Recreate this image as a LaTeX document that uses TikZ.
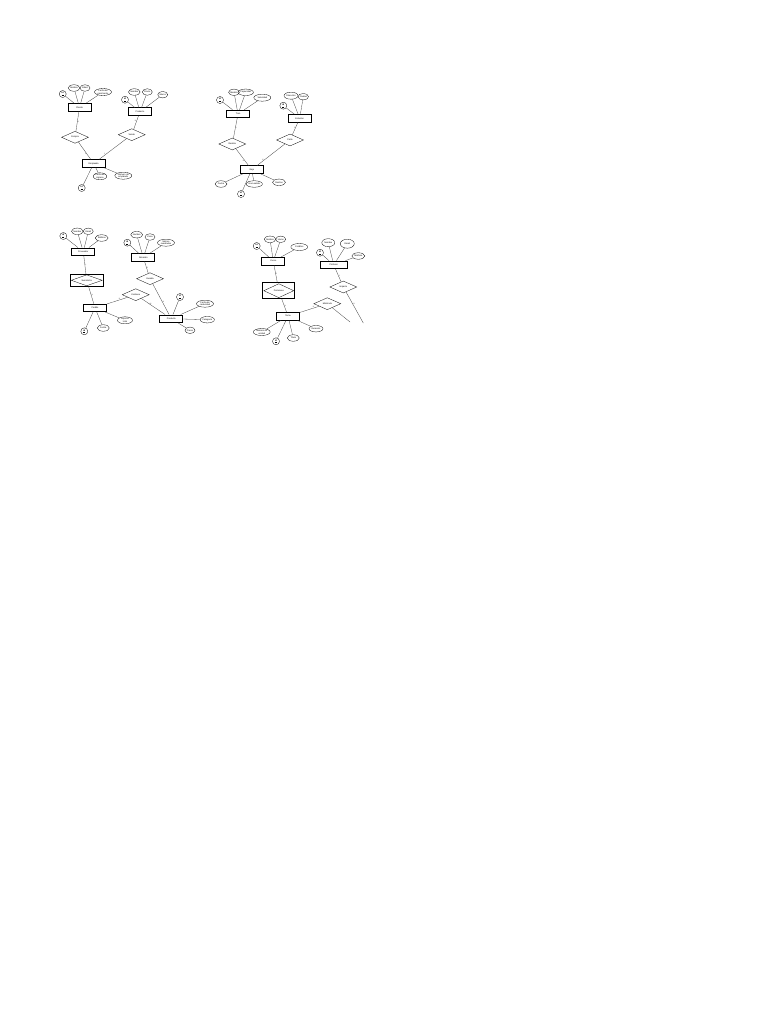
\documentclass[tikz,border=0pt]{standalone}
\usepackage{fontspec}
\setmainfont{Liberation Sans}
\usetikzlibrary{shapes.geometric}
\begin{document}
\begin{tikzpicture}[x=1pt,y=-1pt,
  every node/.style={font=\fontsize{2.2}{2.5}\selectfont, align=center},
  ent/.style={draw, line width=0.9pt, minimum width=23pt, minimum height=7.5pt, inner sep=0pt},
  attr/.style={draw, ellipse, line width=0.3pt, minimum width=10pt, minimum height=6.5pt, inner sep=0.2pt},
  wattr/.style={attr, minimum width=17pt, minimum height=7pt},
  key/.style={draw, circle, line width=0.3pt, minimum size=7pt, inner sep=0pt, font=\fontsize{2.2}{2.5}\selectfont\bfseries},
  rel/.style={draw, diamond, aspect=2.3, line width=0.3pt, minimum width=27pt, minimum height=12pt, inner sep=0pt},
  wbox/.style={draw, line width=0.9pt, minimum width=33pt, minimum height=12pt, inner sep=0pt},
  wrel/.style={draw, diamond, aspect=2.8, line width=0.3pt, minimum width=31pt, minimum height=11pt, inner sep=0pt},
  ln/.style={draw=black!75, line width=0.3pt},
  card/.style={font=\fontsize{1.8}{2}\selectfont, text=black!70, inner sep=0.3pt}]
\useasboundingbox (0,0) rectangle (768,1024);
\fill[white] (0,0) rectangle (768,1024);

% ---------------- Diagram 1 ----------------
\node[ent] (c1) at (79.5,107.5) {Cliente};
\node[key] (c1k) at (62.7,94) {\underline{id}};
\node[attr] (c1a) at (74,88) {Nombre};
\node[attr] (c1b) at (85,88) {Edad};
\node[wattr] (c1c) at (103,92) {Fecha de\\nacimiento};
\foreach \a in {c1k,c1a,c1b,c1c} \draw[ln] (c1) -- (\a);

\node[ent] (p1) at (140,111.7) {Producto};
\node[key] (p1k) at (125,99.7) {\underline{id}};
\node[attr] (p1a) at (134.3,92) {Nombre};
\node[attr] (p1b) at (147.3,92) {Precio};
\node[attr] (p1c) at (162.7,94.7) {Marca};
\foreach \a in {p1k,p1a,p1b,p1c} \draw[ln] (p1) -- (\a);

\node[rel] (r1a) at (75,137.3) {Compra};
\node[rel] (r1b) at (131.7,134.7) {Vende};

\node[ent] (e1) at (93.7,163.5) {Empleado};
\node[key] (e1k) at (81.7,188) {\underline{id}};
\node[attr, minimum width=12pt] (e1a) at (100,176.3) {Fecha de\\ingreso};
\node[wattr] (e1b) at (123.3,175.7) {Número de\\empleado};
\foreach \a in {e1k,e1a,e1b} \draw[ln] (e1) -- (\a);

\draw[ln] (c1) -- node[card, right, pos=0.5] {1} (r1a);
\draw[ln] (r1a) -- node[card, left, pos=0.7] {N} (e1);
\draw[ln] (p1) -- node[card, left, pos=0.4] {N} (r1b);
\draw[ln] (r1b) -- node[card, above, pos=0.8] {1} (e1);

% ---------------- Diagram 2 ----------------
\node[ent] (t2) at (238,114) {Tren};
\node[key] (t2k) at (220,100) {\underline{id}};
\node[attr] (t2a) at (234,92.3) {Modelo};
\node[attr] (t2b) at (245.7,92.3) {Capacidad};
\node[wattr] (t2c) at (262.3,97.7) {Velocidad};
\foreach \a in {t2k,t2a,t2b,t2c} \draw[ln] (t2) -- (\a);

\node[ent] (s2) at (299.7,118.3) {Estación};
\node[key] (s2k) at (283.3,105.7) {\underline{id}};
\node[wattr, minimum width=14pt] (s2a) at (291,95.7) {Dirección};
\node[attr] (s2b) at (303.3,96.7) {Ciudad};
\foreach \a in {s2k,s2a,s2b} \draw[ln] (s2) -- (\a);

\node[rel] (r2a) at (232.3,144) {Realiza};
\node[rel] (r2b) at (290,140) {Parte};

\node[ent] (v2) at (251.7,169.7) {Viaje};
\node[attr, minimum width=12pt] (v2a) at (221,184) {Fecha};
\node[key] (v2k) at (241,194) {\underline{id}};
\node[attr, minimum width=13pt] (v2b) at (254.3,184) {Hora salida};
\node[attr, minimum width=13pt] (v2c) at (279,182.3) {Destino};
\foreach \a in {v2a,v2k,v2b,v2c} \draw[ln] (v2) -- (\a);

\draw[ln] (t2) -- node[card, right, pos=0.5] {1} (r2a);
\draw[ln] (r2a) -- node[card, left, pos=0.7] {N} (v2);
\draw[ln] (s2) -- node[card, left, pos=0.4] {1} (r2b);
\draw[ln] (r2b) -- node[card, above, pos=0.8] {N} (v2);

% ---------------- Diagram 3 ----------------
\node[ent] (a3) at (83.3,251.7) {Proveedor};
\node[key] (a3k) at (63.3,236) {\underline{id}};
\node[attr] (a3a) at (77.3,231.3) {Nombre};
\node[attr] (a3b) at (88.3,231.3) {Email};
\node[attr, minimum width=13pt] (a3c) at (101.7,238) {Teléfono};
\foreach \a in {a3k,a3a,a3b,a3c} \draw[ln] (a3) -- (\a);

\node[wbox] (w3box) at (86.7,280.3) {};
\node[wrel] (w3) at (86.7,280.3) {Suministra};

\node[ent] (b3) at (95,307.8) {Pedido};
\node[key] (b3k) at (84.3,331.3) {\underline{id}};
\node[attr, minimum width=12pt] (b3a) at (103.3,328) {Fecha};
\node[wattr, minimum width=15pt] (b3b) at (125,320.3) {Importe\\total};
\foreach \a in {b3k,b3a,b3b} \draw[ln] (b3) -- (\a);

\node[ent] (c3) at (143.3,257.5) {Almacén};
\node[key] (c3k) at (127.3,242.7) {\underline{id}};
\node[attr, minimum width=12pt] (c3a) at (136.7,234.7) {Nombre};
\node[attr] (c3b) at (150,237) {Zona};
\node[wattr] (c3c) at (166,242.7) {Metros\\cuadrados};
\foreach \a in {c3k,c3a,c3b,c3c} \draw[ln] (c3) -- (\a);

\node[rel] (r3a) at (150,278.7) {Guarda};
\node[rel] (r3b) at (135.7,294.7) {Contiene};

\node[ent] (d3) at (171.3,318.7) {Producto};
\node[key] (d3k) at (180,297) {\underline{id}};
\node[wattr] (d3a) at (205,303.7) {Fecha de\\caducidad};
\node[attr, minimum width=13pt] (d3b) at (207.3,319.7) {Categoría};
\node[attr] (d3c) at (190,330.3) {Precio};
\foreach \a in {d3k,d3a,d3b,d3c} \draw[ln] (d3) -- (\a);

\draw[ln] (a3) -- node[card, right, pos=0.5] {1} (w3box);
\draw[ln] (w3box) -- node[card, right, pos=0.5] {N} (b3);
\draw[ln] (b3) -- node[card, above, pos=0.6] {N} (r3b);
\draw[ln] (r3b) -- node[card, above, pos=0.4] {M} (d3);
\draw[ln] (c3) -- node[card, right, pos=0.5] {1} (r3a);
\draw[ln] (r3a) -- node[card, right, pos=0.6] {N} (d3);

% ---------------- Diagram 4 ----------------
\node[ent] (e4) at (273.3,261.2) {Curso};
\node[key] (e4k) at (256.7,246) {\underline{id}};
\node[attr] (e4a) at (270,239.3) {Nombre};
\node[attr] (e4b) at (280.7,239.3) {Horas};
\node[wattr] (e4c) at (299.3,247) {Créditos};
\foreach \a in {e4k,e4a,e4b,e4c} \draw[ln] (e4) -- (\a);

\node[ent, minimum width=27pt] (f4) at (333.7,264.8) {Profesor};
\node[key] (f4k) at (320,252.7) {\underline{id}};
\node[attr, minimum width=13pt, minimum height=8pt] (f4a) at (328.3,242.7) {Nombre};
\node[attr, minimum width=14pt, minimum height=9pt] (f4b) at (347.3,243.7) {Email};
\node[attr, minimum width=13pt] (f4c) at (358.3,256) {Teléfono};
\foreach \a in {f4k,f4a,f4b,f4c} \draw[ln] (f4) -- (\a);

\node[wbox, minimum width=32pt, minimum height=16pt] (w4box) at (278.8,290.7) {};
\node[wrel, minimum width=30pt, minimum height=14pt, aspect=2.2] (w4) at (278.8,290.7) {Pertenece};

\node[rel] (r4a) at (343.3,287) {Imparte};
\node[rel] (r4b) at (327.3,303.7) {Matricula};

\node[ent] (g4) at (288,316.2) {Tema};
\node[wattr] (g4a) at (261.7,332) {Número de\\unidad};
\node[key] (g4k) at (276,341.3) {\underline{id}};
\node[attr, minimum width=12pt] (g4b) at (293.3,338) {Título};
\node[attr, minimum width=14pt] (g4c) at (316,328.7) {Duración};
\foreach \a in {g4a,g4k,g4b,g4c} \draw[ln] (g4) -- (\a);

\coordinate (x4a) at (363.3,323);
\coordinate (x4b) at (350,322);
\draw[ln] (e4) -- node[card, right, pos=0.5] {1} (w4box);
\draw[ln] (w4box) -- node[card, right, pos=0.5] {N} (g4);
\draw[ln] (g4) -- node[card, above, pos=0.7] {N} (r4b);
\draw[ln] (r4b) -- (x4b);
\draw[ln] (f4) -- node[card, right, pos=0.5] {1} (r4a);
\draw[ln] (r4a) -- node[card, right, pos=0.4] {N} (x4a);
\end{tikzpicture}
\end{document}
